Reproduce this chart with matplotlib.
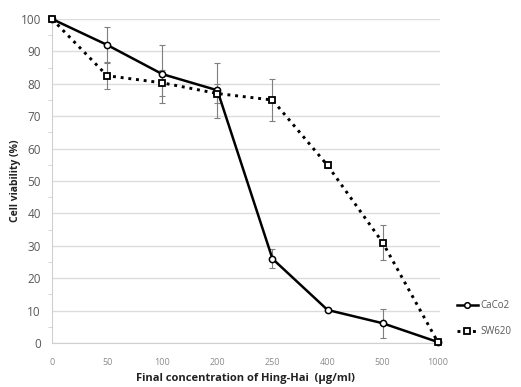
import matplotlib.pyplot as plt

# Final concentration of Hing-Hai (ug/ml), plotted as evenly spaced categories
concentrations = ["0", "50", "100", "200", "250", "400", "500", "1000"]
caco2 = [100, 92, 83, 78, 26, 10.2, 6.1, 0.3]
caco2_err = [0, 5.5, 9, 8.5, 3, 0, 4.5, 0]
sw620 = [100, 82.5, 80.3, 77, 75, 54.8, 31, 0.3]
sw620_err = [0, 4.2, 4, 3, 6.5, 0.8, 5.3, 0]

plt.rcParams["font.family"] = ["Open Sans", "DejaVu Sans"]

fig = plt.figure(figsize=(5.21, 3.87), dpi=100)
ax = fig.add_axes([52 / 521, 1 - 343 / 387, (440 - 52) / 521, (343 - 19) / 387])

pos = list(range(len(concentrations)))
grey = "#595959"

ax.errorbar(pos, caco2, yerr=caco2_err, fmt="none", ecolor="#7f7f7f",
            elinewidth=0.8, capsize=2, capthick=0.8, zorder=2)
ax.errorbar(pos, sw620, yerr=sw620_err, fmt="none", ecolor="#7f7f7f",
            elinewidth=0.8, capsize=2, capthick=0.8, zorder=2)

ax.plot(pos, caco2, "-", color="black", lw=1.8, marker="o", ms=4.5,
        mfc="white", mec="black", mew=1.1, label="CaCo2", zorder=3, clip_on=False)
ax.plot(pos, sw620, ":", color="black", lw=2.1, marker="s", ms=4.5,
        mfc="white", mec="black", mew=1.3, label="SW620", zorder=3, clip_on=False)

ax.set_xlim(0, 7.04)
ax.set_ylim(0, 100)
ax.set_xticks(pos)
ax.set_xticklabels(concentrations, fontsize=6.5, color="#8c8c8c")
ax.set_yticks(range(0, 101, 10))
ax.set_yticks(range(5, 100, 10), minor=True)
ax.tick_params(axis="y", labelsize=8.5, labelcolor=grey, length=0, pad=8)
ax.tick_params(axis="y", which="minor", length=3, color="#d0d0d0", direction="out")
ax.tick_params(axis="x", length=0, pad=11)

ax.grid(axis="y", color="#dcdcdc", lw=1)
ax.set_axisbelow(True)
for side in ["top", "right"]:
    ax.spines[side].set_visible(False)
ax.spines["left"].set_color("#d0d0d0")
ax.spines["bottom"].set_color("#d0d0d0")

ax.set_ylabel("Cell viability (%)", fontsize=7.5, fontweight="bold", color="#222222", labelpad=0)
ax.set_xlabel("Final concentration of Hing-Hai  (\u03bcg/ml)", fontsize=8,
              fontweight="bold", color="#222222", labelpad=4)

ax.legend(loc="lower left", bbox_to_anchor=(1.02, -0.01), frameon=False,
          fontsize=7, labelcolor=grey, handlelength=2.2, handletextpad=0.3,
          labelspacing=1.6, markerscale=0.9)

fig.savefig("out.png", dpi=100)
